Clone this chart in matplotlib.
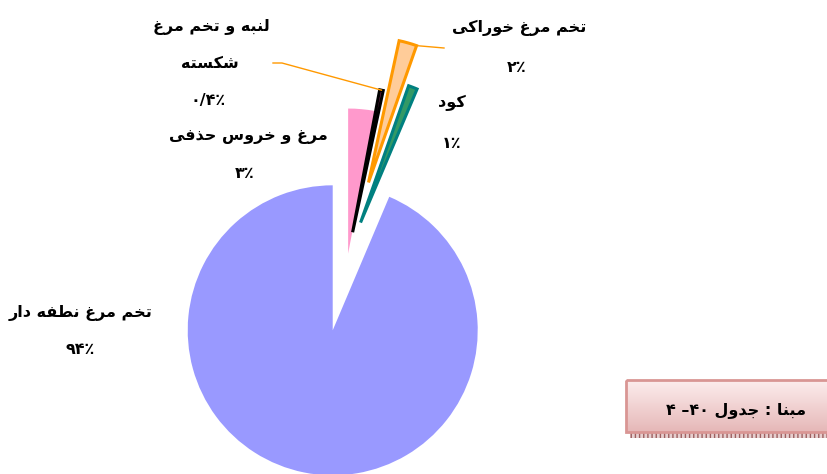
import re
import numpy as np
import matplotlib
matplotlib.use('Agg')
import matplotlib.pyplot as plt
from matplotlib.patches import Rectangle

# slices, clockwise from 12 o'clock
names = ['مرغ و خروس حذفی', 'لنبه و تخم مرغ شکسته', 'تخم مرغ خوراکی', 'کود', 'تخم مرغ نطفه دار']
values = [3, 0.4, 2, 1, 94]
pct_labels = ['۳٪', '۰/۴٪', '۲٪', '۱٪', '۹۴٪']
explode = [0.01, 0.16, 0.52, 0.24, 0.53]
face_colors = ['#FF99CC', '#993366', '#FFCC99', '#339966', '#9999FF']
edge_colors = ['#FF99CC', '#000000', '#FF9900', '#008080', '#9999FF']
edge_widths = [0, 2.2, 2.2, 2.2, 0]
source_note = 'مبنا : جدول ۴۰– ۴'

# matplotlib does not join arabic letters, so pick presentation forms by hand
# base code point (isolated form) and number of forms (2 = joins only to the previous letter)
AR = {'ا': (0xFE8D, 2), 'ب': (0xFE8F, 4), 'ت': (0xFE95, 4), 'ج': (0xFE9D, 4), 'ح': (0xFEA1, 4),
      'خ': (0xFEA5, 4), 'د': (0xFEA9, 2), 'ذ': (0xFEAB, 2), 'ر': (0xFEAD, 2), 'ز': (0xFEAF, 2),
      'س': (0xFEB1, 4), 'ش': (0xFEB5, 4), 'ط': (0xFEC1, 4), 'غ': (0xFECD, 4), 'ف': (0xFED1, 4),
      'ل': (0xFEDD, 4), 'م': (0xFEE1, 4), 'ن': (0xFEE5, 4), 'ه': (0xFEE9, 4), 'و': (0xFEED, 2),
      'ک': (0xFB8E, 4), 'ی': (0xFBFC, 4)}
DIGITS = '۰۱۲۳۴۵۶۷۸۹'


def shape(s):
    out = []
    for i, ch in enumerate(s):
        if ch not in AR:
            out.append(ch)
            continue
        base, n = AR[ch]
        prev = s[i - 1] if i > 0 else ''
        nxt = s[i + 1] if i + 1 < len(s) else ''
        jp = prev in AR and AR[prev][1] == 4
        jn = n == 4 and nxt in AR
        form = (3 if jn else 1) if jp else (2 if jn else 0)
        out.append(chr(base + form))
    return ''.join(out)


def rtl(s):
    runs = re.findall(r'[۰-۹]+(?:/[۰-۹]+)?٪?|[^۰-۹]+', s)
    return ''.join(r if r[0] in DIGITS else shape(r)[::-1] for r in reversed(runs))


fig = plt.figure(figsize=(8.27, 4.74), dpi=100)
ax = fig.add_axes([0, 0, 1, 1])

R = 145
# y axis is flipped, so counterclock=True turns clockwise on screen
# pie() offsets by explode in data units, so scale the fractions by the radius
wedges, _ = ax.pie(values, explode=[e * R for e in explode], startangle=-90, counterclock=True,
                   center=(348, 255), radius=R, colors=face_colors)
for w, ec, lw in zip(wedges, edge_colors, edge_widths):
    w.set_edgecolor(ec if lw else 'none')
    w.set_linewidth(lw)


def rim(w, frac):
    a = np.deg2rad(w.theta1 + frac * (w.theta2 - w.theta1))
    return w.center[0] + w.r * np.cos(a), w.center[1] + w.r * np.sin(a)


# leader lines
x0, y0 = rim(wedges[1], 0.5)
ax.plot([x0, 282, 273], [y0, 63, 63], color='#FF9900', lw=1)
x1, y1 = rim(wedges[2], 1.0)
ax.plot([x1, 444], [y1, 48], color='#FF9900', lw=1)

kw = dict(fontfamily='DejaVu Sans', fontweight='bold', fontsize=11.5, ha='center', va='center')
ax.text(211, 27, rtl('لنبه و تخم مرغ'), **kw)
ax.text(210, 63, rtl('شکسته'), **kw)
ax.text(208, 100, rtl(pct_labels[1]), **kw)
ax.text(248, 137, rtl(names[0]), **kw)
ax.text(245, 173, rtl(pct_labels[0]), **kw)
ax.text(519, 28, rtl(names[2]), **kw)
ax.text(517, 67, rtl(pct_labels[2]), **kw)
ax.text(452, 103, rtl(names[3]), **kw)
ax.text(452, 143, rtl(pct_labels[3]), **kw)
ax.text(80, 313, rtl(names[4]), **kw)
ax.text(80, 350, rtl(pct_labels[4]), **kw)

# source box with gradient
grad = np.linspace(0, 1, 64)[:, None, None]
top = np.array([0.99, 0.93, 0.93])
bot = np.array([0.90, 0.72, 0.72])
img = top * (1 - grad) + bot * grad
ax.imshow(img, extent=(626, 840, 432, 380), aspect='auto', zorder=2)
ax.add_patch(Rectangle((626, 380), 214, 52, fill=False, edgecolor='#D99694', lw=2, zorder=3))
ax.add_patch(Rectangle((630, 433), 210, 5, facecolor='#E6CFCF', edgecolor='#9E6060',
                       hatch='||||', lw=0, zorder=2))
ax.text(736, 410, rtl(source_note), zorder=4, **kw)

ax.set_xlim(0, 827)
ax.set_ylim(474, 0)
ax.set_aspect('equal')
ax.axis('off')
fig.savefig('out.png', dpi=100)
